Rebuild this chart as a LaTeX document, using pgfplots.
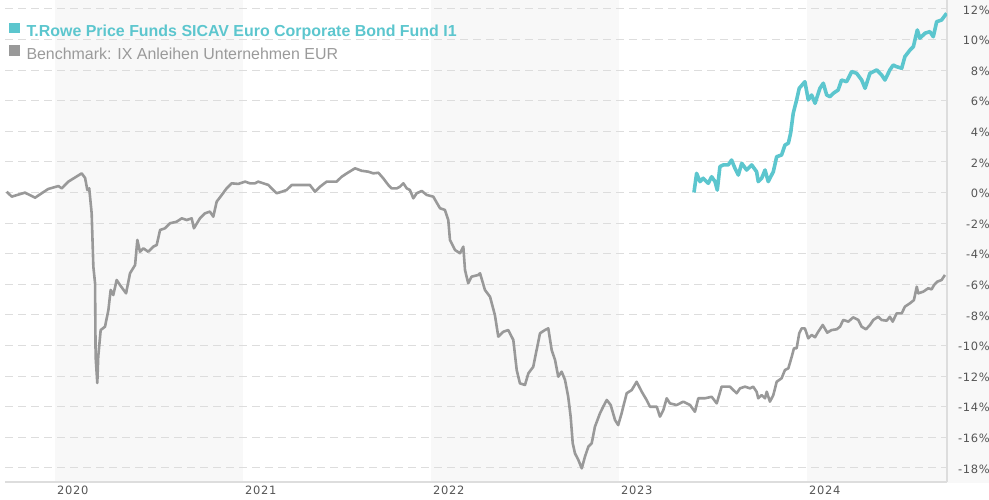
\documentclass[border=0pt]{standalone}
\usepackage{pgfplots}
\pgfplotsset{compat=1.18}
\usepackage{fontspec}
\newfontfamily\legfont{Liberation Sans}
\newfontfamily\tickfont[LetterSpace=6]{DejaVu Sans}
\definecolor{tealc}{RGB}{92,198,206}
\definecolor{grayline}{RGB}{153,153,153}
\definecolor{graytext}{RGB}{154,154,154}
\definecolor{bandc}{RGB}{248,248,248}
\definecolor{gridc}{RGB}{221,221,221}
\definecolor{axisc}{RGB}{221,221,221}
\definecolor{tickc}{RGB}{85,85,85}
\begin{document}
\begin{tikzpicture}
\begin{axis}[
  set layers,
  scale only axis,
  width=942bp, height=482bp,
  xmin=2019.734, xmax=2024.745,
  ymin=-18.92, ymax=12.58,
  axis x line*=bottom, axis y line*=right,
  axis line style={draw=axisc, line width=1.3bp},
  major tick length=0pt,
  tick style={draw=none},
  xtick={2020,2021,2022,2023,2024},
  xticklabels={2020,2021,2022,2023,2024},
  xticklabel style={anchor=north west, inner sep=0pt, xshift=2bp, yshift=-4bp, font=\tickfont\fontsize{11.5}{12}\selectfont, text=tickc},
  ytick={-18,-16,-14,-12,-10,-8,-6,-4,-2,0,2,4,6,8,10,12},
  yticklabels={-18\%,-16\%,-14\%,-12\%,-10\%,-8\%,-6\%,-4\%,-2\%,0\%,2\%,4\%,6\%,8\%,10\%,12\%},
  yticklabel style={anchor=east, inner sep=0pt, xshift=43bp, yshift=-1bp, font=\tickfont\fontsize{11.5}{12}\selectfont, text=tickc},
  ymajorgrids,
  grid style={draw=gridc, line width=1bp, dash pattern=on 8bp off 5bp},
  legend style={
    at={(axis description cs:0,1)}, anchor=north west,
    xshift=4bp, yshift=-23bp,
    draw=none, fill=none, inner sep=0pt, outer sep=0pt,
    row sep=5bp,
    nodes={inner sep=0pt, text height=11.5bp, text depth=3.5bp},
    /tikz/every odd column/.append style={column sep=7bp},
    font=\legfont\fontsize{16}{16}\selectfont,
  },
  legend cell align=left,
  legend image code/.code={\fill[#1, draw=none] (0bp,-0.5bp) rectangle (10.5bp,10bp);},
]
% background year bands
\addplot[draw=none, fill=bandc, on layer=axis background, forget plot] coordinates {(2020,-19) (2021,-19) (2021,13) (2020,13)};
\addplot[draw=none, fill=bandc, on layer=axis background, forget plot] coordinates {(2022,-19) (2023,-19) (2023,13) (2022,13)};
\addplot[draw=none, fill=bandc, on layer=axis background, forget plot] coordinates {(2024,-19) (2025,-19) (2025,13) (2024,13)};

% fund
\addplot[color=tealc, line width=3.6bp, line join=round] coordinates {
(2023.399,0.00) (2023.413,1.25) (2023.431,0.71) (2023.448,0.93) (2023.475,0.60)
(2023.493,1.03) (2023.511,0.71) (2023.523,0.16) (2023.537,1.69) (2023.555,1.80)
(2023.581,1.80) (2023.599,2.12) (2023.617,1.58) (2023.635,1.14) (2023.653,1.91)
(2023.679,1.47) (2023.706,1.80) (2023.732,1.36) (2023.741,0.71) (2023.759,0.93)
(2023.777,1.47) (2023.794,0.71) (2023.821,1.36) (2023.839,2.34) (2023.865,2.45)
(2023.883,3.10) (2023.901,3.22) (2023.913,3.87) (2023.927,5.18) (2023.945,6.05)
(2023.959,6.81) (2023.989,7.24) (2024.007,6.05) (2024.025,6.37) (2024.043,5.83)
(2024.069,6.81) (2024.087,7.14) (2024.105,6.37) (2024.122,6.26) (2024.140,6.48)
(2024.166,6.70) (2024.184,7.35) (2024.211,7.24) (2024.238,7.90) (2024.264,7.79)
(2024.291,7.35) (2024.309,6.81) (2024.335,7.79) (2024.371,8.01) (2024.397,7.68)
(2024.415,7.35) (2024.441,8.01) (2024.459,8.33) (2024.477,8.22) (2024.504,8.12)
(2024.521,8.88) (2024.548,9.31) (2024.566,9.53) (2024.587,10.62) (2024.601,10.08)
(2024.628,10.41) (2024.654,10.51) (2024.672,10.18) (2024.690,11.16) (2024.716,11.27)
(2024.743,11.71)
};
\addlegendentry{\textcolor{tealc}{\bfseries T.Rowe Price Funds SICAV Euro Corporate Bond Fund I1}}

% benchmark
\addplot[color=grayline, line width=2.6bp, line join=round] coordinates {
(2019.743,0.05) (2019.770,-0.27) (2019.840,-0.01) (2019.894,-0.34) (2019.929,-0.05)
(2019.964,0.23) (2020.018,0.42) (2020.036,0.27) (2020.071,0.71) (2020.142,1.25)
(2020.160,0.95) (2020.172,0.16) (2020.182,0.27) (2020.195,-1.36) (2020.204,-4.85)
(2020.213,-5.92) (2020.216,-10.73) (2020.225,-12.45) (2020.230,-10.73) (2020.243,-8.99)
(2020.266,-8.77) (2020.284,-7.68) (2020.296,-6.37) (2020.310,-6.70) (2020.328,-5.72)
(2020.346,-6.05) (2020.378,-6.59) (2020.399,-5.28) (2020.426,-4.74) (2020.438,-3.10)
(2020.452,-3.87) (2020.470,-3.65) (2020.496,-3.87) (2020.523,-3.54) (2020.541,-3.43)
(2020.559,-2.45) (2020.585,-2.34) (2020.612,-2.01) (2020.647,-1.91) (2020.674,-1.69)
(2020.701,-1.80) (2020.727,-1.69) (2020.739,-2.34) (2020.771,-1.69) (2020.798,-1.36)
(2020.824,-1.25) (2020.842,-1.58) (2020.860,-0.60) (2020.887,-0.16) (2020.913,0.27)
(2020.940,0.60) (2020.975,0.56) (2021.011,0.71) (2021.037,0.60) (2021.064,0.60)
(2021.081,0.71) (2021.108,0.60) (2021.135,0.49) (2021.161,0.16) (2021.179,-0.05)
(2021.206,0.05) (2021.232,0.16) (2021.259,0.49) (2021.286,0.49) (2021.321,0.49)
(2021.356,0.49) (2021.383,0.05) (2021.410,0.38) (2021.445,0.71) (2021.472,0.71)
(2021.498,0.71) (2021.525,1.03) (2021.552,1.25) (2021.596,1.58) (2021.631,1.42)
(2021.666,1.36) (2021.693,1.25) (2021.720,1.29) (2021.746,0.93) (2021.773,0.49)
(2021.791,0.27) (2021.818,0.27) (2021.835,0.38) (2021.853,0.60) (2021.871,0.27)
(2021.888,0.16) (2021.906,-0.38) (2021.924,-0.05) (2021.951,0.10) (2021.977,-0.16)
(2022.012,-0.27) (2022.048,-1.03) (2022.074,-1.14) (2022.092,-1.80) (2022.101,-3.10)
(2022.128,-3.76) (2022.154,-3.97) (2022.172,-3.54) (2022.181,-5.07) (2022.198,-5.93)
(2022.216,-5.50) (2022.252,-5.39) (2022.261,-5.28) (2022.287,-6.37) (2022.314,-6.81)
(2022.340,-8.01) (2022.358,-9.42) (2022.385,-9.10) (2022.411,-8.99) (2022.438,-9.64)
(2022.456,-11.60) (2022.473,-12.47) (2022.500,-12.58) (2022.518,-11.82) (2022.544,-11.39)
(2022.562,-10.29) (2022.580,-9.20) (2022.606,-8.99) (2022.624,-8.88) (2022.642,-10.29)
(2022.660,-10.95) (2022.677,-12.04) (2022.695,-11.71) (2022.713,-12.25) (2022.730,-13.35)
(2022.743,-14.65) (2022.754,-16.39) (2022.766,-17.05) (2022.784,-17.48) (2022.802,-18.03)
(2022.819,-17.27) (2022.837,-16.61) (2022.855,-16.39) (2022.872,-15.31) (2022.899,-14.43)
(2022.916,-14.00) (2022.935,-13.56) (2022.956,-13.89) (2022.979,-14.87) (2022.996,-15.20)
(2023.014,-14.43) (2023.041,-13.12) (2023.068,-12.91) (2023.094,-12.37) (2023.121,-13.02)
(2023.147,-13.56) (2023.165,-14.00) (2023.201,-14.00) (2023.218,-14.65) (2023.236,-14.22)
(2023.254,-13.45) (2023.271,-13.78) (2023.307,-13.89) (2023.342,-13.67) (2023.378,-13.89)
(2023.404,-14.33) (2023.422,-13.45) (2023.457,-13.45) (2023.493,-13.35) (2023.520,-13.78)
(2023.546,-12.69) (2023.590,-12.69) (2023.626,-13.12) (2023.644,-12.80) (2023.670,-12.69)
(2023.697,-12.80) (2023.714,-12.69) (2023.732,-13.02) (2023.741,-13.45) (2023.759,-13.24)
(2023.777,-13.45) (2023.786,-13.02) (2023.803,-13.67) (2023.821,-13.24) (2023.839,-12.37)
(2023.865,-12.14) (2023.883,-11.60) (2023.901,-11.49) (2023.919,-10.73) (2023.931,-10.18)
(2023.945,-10.18) (2023.959,-9.20) (2023.972,-8.88) (2023.989,-8.88) (2024.007,-9.53)
(2024.025,-9.31) (2024.043,-9.46) (2024.060,-9.10) (2024.084,-8.66) (2024.108,-9.16)
(2024.131,-8.99) (2024.158,-8.94) (2024.176,-8.77) (2024.193,-8.33) (2024.220,-8.44)
(2024.246,-8.16) (2024.273,-8.33) (2024.291,-8.77) (2024.314,-8.94) (2024.335,-8.66)
(2024.353,-8.33) (2024.379,-8.12) (2024.397,-8.33) (2024.424,-8.38) (2024.441,-8.12)
(2024.456,-8.44) (2024.477,-7.90) (2024.504,-7.90) (2024.521,-7.46) (2024.548,-7.24)
(2024.569,-7.03) (2024.584,-6.16) (2024.592,-6.59) (2024.619,-6.48) (2024.645,-6.26)
(2024.663,-6.33) (2024.676,-6.05) (2024.693,-5.83) (2024.716,-5.72) (2024.734,-5.39)
};
\addlegendentry{\textcolor{graytext}{Benchmark: IX Anleihen Unternehmen EUR}}
\end{axis}
\pgfresetboundingbox
\path[use as bounding box] ([xshift=-5bp,yshift=-18bp]current axis.south west) rectangle ([xshift=984bp,yshift=482bp]current axis.south west);
\end{tikzpicture}
\end{document}
